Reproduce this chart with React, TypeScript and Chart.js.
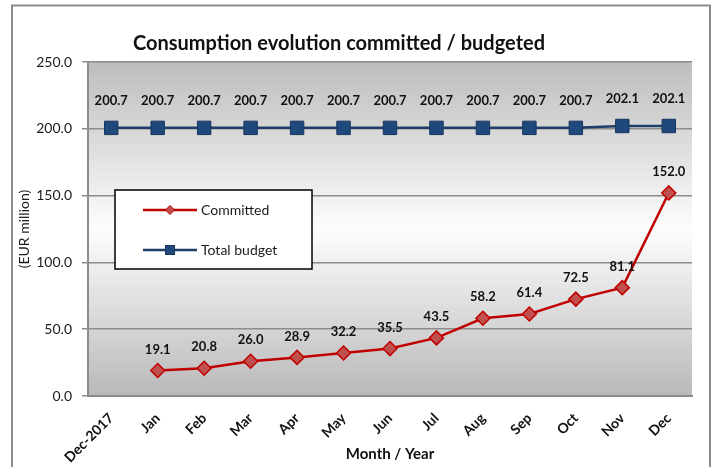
import React, { useEffect, useRef } from "react";
import { Chart, registerables } from "chart.js";

Chart.register(...registerables);

const categories = ["Dec-2017", "Jan", "Feb", "Mar", "Apr", "May", "Jun", "Jul", "Aug", "Sep", "Oct", "Nov", "Dec"];
const committed: (number | null)[] = [null, 19.1, 20.8, 26.0, 28.9, 32.2, 35.5, 43.5, 58.2, 61.4, 72.5, 81.1, 152.0];
const totalBudget = [200.7, 200.7, 200.7, 200.7, 200.7, 200.7, 200.7, 200.7, 200.7, 200.7, 200.7, 202.1, 202.1];
const seriesNames = ["Committed", "Total budget"];
const yMin = 0;
const yMax = 250;
const yStep = 50;
const chartTitle = "Consumption evolution committed / budgeted";
const yTitle = "(EUR million)";
const xTitle = "Month / Year";

const FONT = "Lato, 'Liberation Sans', sans-serif";

const framePlugin = {
  id: "frame",
  beforeDraw(chart: any) {
    const { ctx, chartArea } = chart;
    ctx.save();
    ctx.fillStyle = "#ffffff";
    ctx.fillRect(0, 0, chart.width, chart.height);
    ctx.strokeStyle = "#8c8c8c";
    ctx.lineWidth = 2;
    ctx.strokeRect(12, 5.5, 698, 480);
    const g = ctx.createLinearGradient(0, chartArea.top, 0, chartArea.bottom);
    g.addColorStop(0, "#bdbdbd");
    g.addColorStop(0.5, "#fdfdfd");
    g.addColorStop(1, "#b9b9b9");
    ctx.fillStyle = g;
    ctx.fillRect(chartArea.left, chartArea.top, chartArea.right - chartArea.left, chartArea.bottom - chartArea.top);
    ctx.restore();
  },
  afterDraw(chart: any) {
    const { ctx, chartArea } = chart;
    ctx.save();
    // title
    ctx.font = `bold 20px ${FONT}`;
    ctx.fillStyle = "#111111";
    ctx.textAlign = "center";
    ctx.textBaseline = "middle";
    ctx.fillText(chartTitle, chartArea.left + 251, 44);

    // legend
    const lx = chartArea.left + 27;
    const ly = chartArea.top + 128;
    const lw = 197;
    const lh = 79;
    ctx.fillStyle = "#ffffff";
    ctx.fillRect(lx, ly, lw, lh);
    ctx.strokeStyle = "#000000";
    ctx.lineWidth = 1.5;
    ctx.strokeRect(lx, ly, lw, lh);
    const rows = [ly + 20, ly + 60];
    chart.data.datasets.forEach((ds: any, i: number) => {
      const y = rows[i];
      ctx.strokeStyle = ds.borderColor;
      ctx.lineWidth = 2.5;
      ctx.beginPath();
      ctx.moveTo(lx + 28, y);
      ctx.lineTo(lx + 82, y);
      ctx.stroke();
      ctx.fillStyle = ds.pointBackgroundColor;
      ctx.strokeStyle = ds.pointBorderColor;
      ctx.lineWidth = 1;
      const cx = lx + 55;
      if (ds.pointStyle === "rectRot") {
        ctx.beginPath();
        ctx.moveTo(cx, y - 4.5);
        ctx.lineTo(cx + 4.5, y);
        ctx.lineTo(cx, y + 4.5);
        ctx.lineTo(cx - 4.5, y);
        ctx.closePath();
        ctx.fill();
        ctx.stroke();
      } else {
        ctx.fillRect(cx - 4.5, y - 4.5, 9, 9);
        ctx.strokeRect(cx - 4.5, y - 4.5, 9, 9);
      }
      ctx.fillStyle = "#1a1a1a";
      ctx.font = `14px ${FONT}`;
      ctx.textAlign = "left";
      ctx.textBaseline = "middle";
      ctx.fillText(ds.label, lx + 86, y);
    });
    ctx.restore();
  },
};

const valueLabelPlugin = {
  id: "valueLabels",
  afterDatasetsDraw(chart: any) {
    const { ctx } = chart;
    ctx.save();
    ctx.font = `bold 13px ${FONT}`;
    ctx.fillStyle = "#111111";
    ctx.textAlign = "center";
    ctx.textBaseline = "middle";
    chart.data.datasets.forEach((ds: any, i: number) => {
      const meta = chart.getDatasetMeta(i);
      meta.data.forEach((pt: any, j: number) => {
        const v = ds.data[j];
        if (v === null || v === undefined) return;
        ctx.fillText(Number(v).toFixed(1), pt.x, pt.y - ds.labelOffset);
      });
    });
    ctx.restore();
  },
};

export default function App() {
  const ref = useRef<HTMLCanvasElement | null>(null);

  useEffect(() => {
    if (!ref.current) return;
    const chart = new Chart(ref.current, {
      type: "line",
      data: {
        labels: categories,
        datasets: [
          {
            label: seriesNames[0],
            data: committed,
            borderColor: "#c00000",
            borderWidth: 2.5,
            pointStyle: "rectRot",
            pointRadius: 7,
            pointBackgroundColor: "#c0504d",
            pointBorderColor: "#c00000",
            pointBorderWidth: 1.5,
            tension: 0,
            spanGaps: false,
            labelOffset: 21,
          } as any,
          {
            label: seriesNames[1],
            data: totalBudget,
            borderColor: "#1f3f6a",
            borderWidth: 2.5,
            pointStyle: "rect",
            pointRadius: 9.5,
            pointBackgroundColor: "#1f497d",
            pointBorderColor: "#17365d",
            pointBorderWidth: 1,
            tension: 0,
            labelOffset: 27,
          } as any,
        ],
      },
      options: {
        responsive: false,
        animation: false,
        events: [],
        layout: { padding: { left: 12, right: 24, top: 62, bottom: 0 } },
        plugins: {
          legend: { display: false },
          title: { display: false },
          tooltip: { enabled: false },
        },
        scales: {
          x: {
            type: "category",
            offset: true,
            grid: { display: false },
            border: { display: true, color: "#8c8c8c", width: 2 },
            ticks: {
              autoSkip: false,
              maxRotation: 45,
              minRotation: 45,
              padding: 6,
              color: "#111111",
              font: { family: FONT, size: 14, weight: "bold" },
            },
            title: {
              display: true,
              text: xTitle,
              color: "#111111",
              font: { family: FONT, size: 15, weight: "bold" },
              padding: { top: 2, bottom: 4 },
            },
            afterFit: (s: any) => {
              s.height = 71;
            },
          },
          y: {
            min: yMin,
            max: yMax,
            ticks: {
              stepSize: yStep,
              padding: 10,
              color: "#1a1a1a",
              font: { family: FONT, size: 14 },
              callback: (v: any) => Number(v).toFixed(1),
            },
            grid: { color: "#8c8c8c", lineWidth: 1.5, tickLength: 6, drawTicks: true },
            border: { display: true, color: "#8c8c8c", width: 2 },
            title: {
              display: true,
              text: yTitle,
              color: "#1a1a1a",
              font: { family: FONT, size: 14 },
              padding: { top: 4, bottom: 4 },
            },
            afterFit: (s: any) => {
              s.width = 76;
            },
          },
        },
      },
      plugins: [framePlugin, valueLabelPlugin],
    } as any);
    return () => chart.destroy();
  }, []);

  return (
    <div style={{ position: "fixed", left: 0, top: 0, width: 716, height: 467 }}>
      <canvas ref={ref} width={716} height={467} style={{ width: 716, height: 467, display: "block" }} />
    </div>
  );
}
